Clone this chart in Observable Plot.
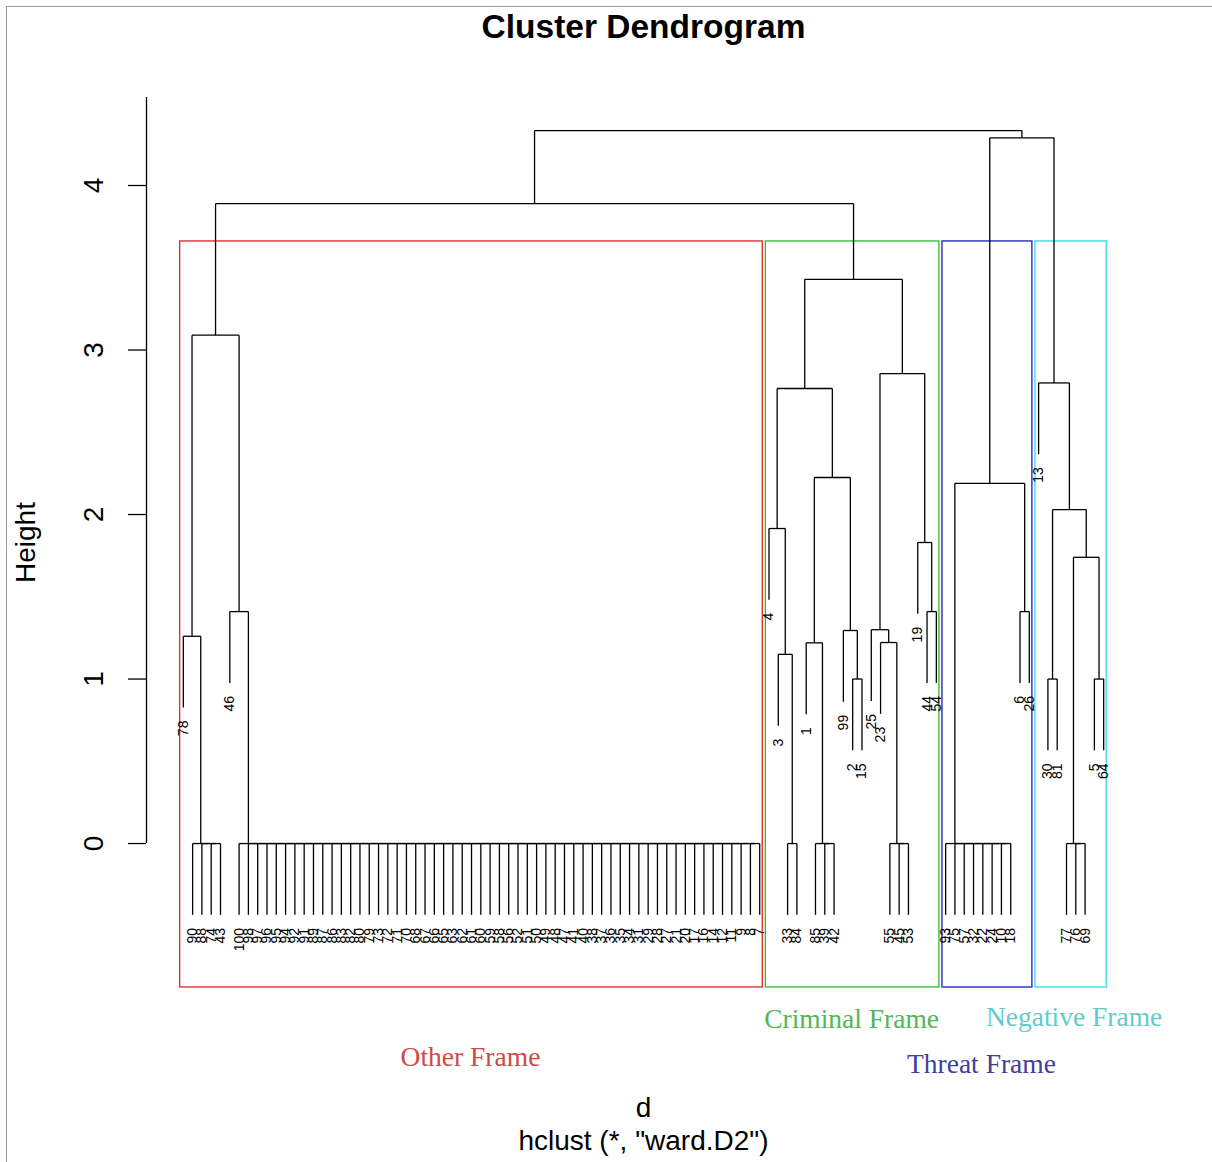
<!DOCTYPE html>
<html>
<head>
<meta charset="utf-8">
<script src="https://cdn.jsdelivr.net/npm/d3@7"></script>
<script src="https://cdn.jsdelivr.net/npm/@observablehq/plot@0.6"></script>
<style>
  html, body { margin: 0; padding: 0; background: #fff; }
  #wrap { position: relative; width: 1212px; height: 1162px; overflow: hidden; }
  #border { position: absolute; left: 6px; top: 6px; right: 0; bottom: 0;
            border-left: 1.5px solid #9a9a9a; border-top: 1.5px solid #9a9a9a; pointer-events: none; }
</style>
</head>
<body>
<div id="wrap"><div id="border"></div></div>
<script>
// ---------------- DATA ----------------
// observations that join at height 0 (identical profiles), in display order
const tiedG1 = [90, 88, 74, 43];
const tiedG2 = [100, 98, 97, 96, 95, 94, 92, 91, 89, 87, 86, 83, 82, 80, 79, 73, 72, 71, 70, 68,
                67, 66, 65, 63, 62, 61, 60, 59, 58, 56, 52, 51, 50, 49, 48, 47, 41, 40, 38, 37,
                36, 35, 34, 31, 29, 28, 27, 21, 20, 17, 16, 14, 12, 11, 9, 8, 7];
const tiedG3 = [33, 84];
const tiedG4 = [85, 39, 42];
const tiedG5 = [55, 45, 53];
const tiedG6 = [93, 75, 57, 32, 22, 24, 10, 18];
const tiedG7 = [77, 76, 69];
const tiedGroups = {g1: tiedG1, g2: tiedG2, g3: tiedG3, g4: tiedG4, g5: tiedG5, g6: tiedG6, g7: tiedG7};

// merges: id, left child, right child, height  (numbers = observation labels)
const mergeIds     = ["r1","r2","red","c111","c11","c121","c1221","c122","c12","c1","c211","c21","c221","c22","c2","criminal","t1","threat","n11","n121","n12","n1","negative","left","right","root"];
const mergeLeft    = [78, 46, "r1", 3, 4, 1, 2, 99, "c121", "c11", 23, 25, 44, 19, "c21", "c1", 6, "g6", 30, 5, "g7", "n11", 13, "red", "threat", "left"];
const mergeRight   = ["g1", "g2", "r2", "g3", "c111", "g4", 15, "c1221", "c122", "c12", "g5", "c211", 54, "c221", "c22", "c2", 26, "t1", 81, 64, "n121", "n12", "n1", "criminal", "negative", "right"];
const mergeHeights = [1.26, 1.41, 3.09, 1.15, 1.915, 1.22, 1.0, 1.295, 2.225, 2.766, 1.222, 1.30, 1.41, 1.83, 2.857, 3.43, 1.41, 2.19, 1.0, 1.0, 1.74, 2.03, 2.80, 3.89, 4.29, 4.334];

const clusterNodes  = ["red", "criminal", "threat", "negative"];
const clusterNames  = ["Other Frame", "Criminal Frame", "Threat Frame", "Negative Frame"];
const yTicks = [0, 1, 2, 3, 4];

// ---------------- styling ----------------
const boxColors   = ["#dc3434", "#3cbc3c", "#2a2ac4", "#3ee0e6"];
const textColors  = ["#d04848", "#52b852", "#40409a", "#62cccc"];
const labelDy     = [70, 32, 77, 30];
const labelDx     = [-1, -1, -6, 3];
const sans = "Liberation Sans, Arial, sans-serif";
const serif = "Liberation Serif, Times New Roman, serif";

// ---------------- tree construction (R plot.hclust rules) ----------------
const maxH = d3.max(mergeHeights);
const hang = 0.1 * maxH;
const mergeMap = new Map(mergeIds.map((id, i) => [id, {l: mergeLeft[i], r: mergeRight[i], h: mergeHeights[i]}]));

function build(ref) {
  if (typeof ref === "number") return {label: ref};
  if (tiedGroups[ref]) {
    const list = tiedGroups[ref];
    let node = {label: list[list.length - 1]};
    for (let i = list.length - 2; i >= 0; --i) node = {h: 0, children: [{label: list[i]}, node]};
    return node;
  }
  const m = mergeMap.get(ref);
  return {id: ref, h: m.h, children: [build(m.l), build(m.r)]};
}
const root = build("root");

let idx = 0;
const leaves = [], segments = [], nodeById = new Map();
function place(node) {
  if (!node.children) {
    node.x = ++idx;
    node.lo = node.hi = node.x;
    return;
  }
  node.children.forEach(place);
  const [a, b] = node.children;
  node.x = (a.x + b.x) / 2;
  node.lo = a.lo; node.hi = b.hi;
  if (node.id) nodeById.set(node.id, node);
  segments.push({x1: a.x, y1: node.h, x2: b.x, y2: node.h});
  for (const c of node.children) {
    const ch = c.children ? c.h : node.h - hang;
    if (!c.children) leaves.push({x: c.x, y: ch, label: String(c.label)});
    segments.push({x1: c.x, y1: node.h, x2: c.x, y2: ch});
  }
}
place(root);
const n = idx;

// rect.hclust(k = 4)
const sortedH = mergeHeights.slice().sort((a, b) => b - a);
const boxTop = (sortedH[2] + sortedH[3]) / 2;
const xDomain = [1 - 0.04 * (n - 1), n + 0.04 * (n - 1)];
const yDomain = [-0.875, 4.535];
const boxes = clusterNodes.map((id, i) => {
  const nd = nodeById.get(id);
  return {x1: nd.lo - 0.34, x2: nd.hi + 0.33, y1: yDomain[0], y2: boxTop,
          cx: (nd.lo - 0.34 + nd.hi + 0.33) / 2, name: clusterNames[i], i};
});

const chart = Plot.plot({
  width: 1212, height: 1162,
  marginLeft: 146, marginRight: 72, marginTop: 97, marginBottom: 175,
  x: {domain: xDomain, axis: null},
  y: {domain: yDomain, axis: null},
  style: {fontFamily: sans, background: "transparent", color: "black", overflow: "visible"},
  marks: [
    // y axis
    Plot.ruleX([xDomain[0]], {y1: 0, y2: yDomain[1], stroke: "black", strokeWidth: 1.3}),
    Plot.axisY(yTicks, {anchor: "left", tickSize: 18, tickFormat: () => "", label: null, stroke: "black", strokeWidth: 1.3}),
    Plot.text(yTicks, {y: d => d, text: d => String(d), frameAnchor: "left", dx: -52, rotate: -90,
                       textAnchor: "middle", lineAnchor: "middle", fontSize: 28, fill: "black"}),
    // cluster boxes
    Plot.rect(boxes, {x1: "x1", x2: "x2", y1: "y1", y2: "y2", fill: "none",
                      stroke: d => boxColors[d.i], strokeWidth: 1.4}),
    // dendrogram
    Plot.link(segments, {x1: "x1", y1: "y1", x2: "x2", y2: "y2", stroke: "black", strokeWidth: 1.3}),
    // leaf labels
    Plot.text(leaves, {x: "x", y: "y", text: "label", rotate: -90, textAnchor: "end", lineAnchor: "middle",
                       dy: 13, fontSize: 14, fill: "black"}),
    // cluster names
    ...boxes.map(b => Plot.text([b], {x: "cx", text: "name", frameAnchor: "bottom",
                      dx: labelDx[b.i], dy: labelDy[b.i], lineAnchor: "middle", textAnchor: "middle",
                      fontFamily: serif, fontSize: 27.5, fill: textColors[b.i]})),
    // titles
    Plot.text(["Cluster Dendrogram"], {frameAnchor: "top", dy: -70, lineAnchor: "middle", fontSize: 33.5, fontWeight: "bold"}),
    Plot.text(["Height"], {frameAnchor: "left", dx: -120, rotate: -90, textAnchor: "middle", lineAnchor: "middle", fontSize: 28}),
    Plot.text(["d"], {frameAnchor: "bottom", dy: 121, lineAnchor: "middle", fontSize: 28}),
    Plot.text(['hclust (*, "ward.D2")'], {frameAnchor: "bottom", dy: 154, lineAnchor: "middle", fontSize: 28})
  ]
});
document.getElementById("wrap").prepend(chart);
</script>
</body>
</html>
